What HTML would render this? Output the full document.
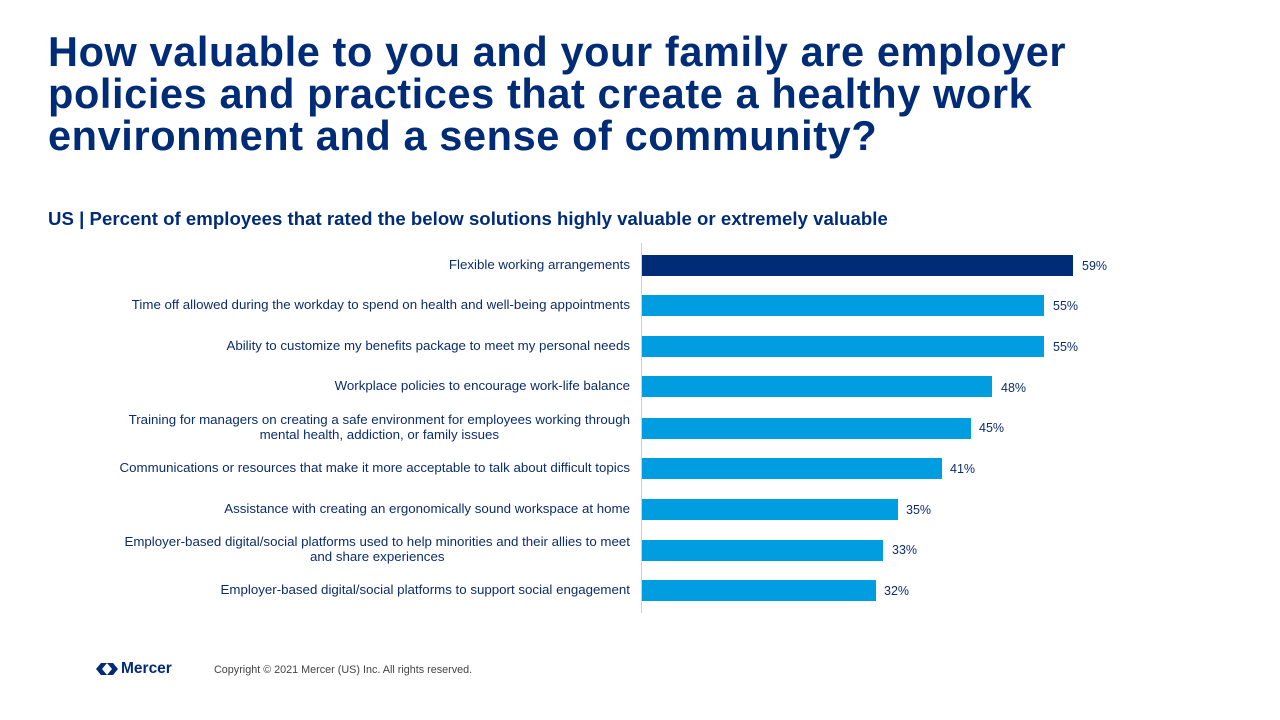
<!DOCTYPE html>
<html><head><meta charset="utf-8"><style>
body{margin:0;width:1280px;height:720px;background:#fff;position:relative;overflow:hidden;font-family:"Liberation Sans",Arial,sans-serif;color:#002c77}
.t{position:absolute;left:48px;top:31px;font-size:41.5px;font-weight:bold;line-height:42px;color:#002c77;letter-spacing:0.6px}
.s{position:absolute;left:48px;top:208px;font-size:18.6px;font-weight:bold;letter-spacing:0.03px}
.l{position:absolute;right:650px;font-size:13.3px;line-height:15px;text-align:right;color:#0c2d6b;white-space:nowrap}
.l.c{text-align:center}
.b{position:absolute;left:642px;height:21px;background:#009de0}
.v{position:absolute;font-size:12.5px;color:#0c2d6b}
.ax{position:absolute;left:641px;top:243px;width:1px;height:370px;background:#d0d0d0}
.f{position:absolute;left:214px;top:664px;font-size:10.8px;color:#444}
</style></head><body>
<div class="t">How valuable to you and your family are employer<br>policies and practices that create a healthy work<br>environment and a sense of community?</div>
<div class="s">US | Percent of employees that rated the below solutions highly valuable or extremely valuable</div>
<div class="ax"></div>

<div class="l" style="top:257px">Flexible working arrangements</div>
<div class="b" style="top:255px;width:431px;background:#002c77"></div><div class="v" style="left:1082px;top:259px">59%</div>

<div class="l" style="top:297px">Time off allowed during the workday to spend on health and well-being appointments</div>
<div class="b" style="top:295px;width:402px"></div><div class="v" style="left:1053px;top:299px">55%</div>

<div class="l" style="top:338px">Ability to customize my benefits package to meet my personal needs</div>
<div class="b" style="top:336px;width:402px"></div><div class="v" style="left:1053px;top:340px">55%</div>

<div class="l" style="top:378px">Workplace policies to encourage work-life balance</div>
<div class="b" style="top:376px;width:350px"></div><div class="v" style="left:1001px;top:381px">48%</div>

<div class="l c" style="top:412px">Training for managers on creating a safe environment for employees working through<br>mental health, addiction, or family issues</div>
<div class="b" style="top:418px;width:329px"></div><div class="v" style="left:979px;top:421px">45%</div>

<div class="l" style="top:460px">Communications or resources that make it more acceptable to talk about difficult topics</div>
<div class="b" style="top:458px;width:300px"></div><div class="v" style="left:950px;top:462px">41%</div>

<div class="l" style="top:501px">Assistance with creating an ergonomically sound workspace at home</div>
<div class="b" style="top:499px;width:256px"></div><div class="v" style="left:906px;top:503px">35%</div>

<div class="l c" style="top:534px">Employer-based digital/social platforms used to help minorities and their allies to meet<br>and share experiences</div>
<div class="b" style="top:540px;width:241px"></div><div class="v" style="left:892px;top:543px">33%</div>

<div class="l" style="top:582px">Employer-based digital/social platforms to support social engagement</div>
<div class="b" style="top:580px;width:234px"></div><div class="v" style="left:884px;top:584px">32%</div>

<svg style="position:absolute;left:96px;top:663px" width="22" height="12" viewBox="0 0 22 12"><path d="M0 6 L5 0 H11 L6 6 L11 12 H5 Z M11 0 H17 L22 6 L17 12 H11 L16 6 Z" fill="#002c77"/></svg>
<div style="position:absolute;left:121px;top:660px;font-size:15.5px;font-weight:bold;color:#002c77">Mercer</div>
<div class="f">Copyright © 2021 Mercer (US) Inc. All rights reserved.</div>
</body></html>
